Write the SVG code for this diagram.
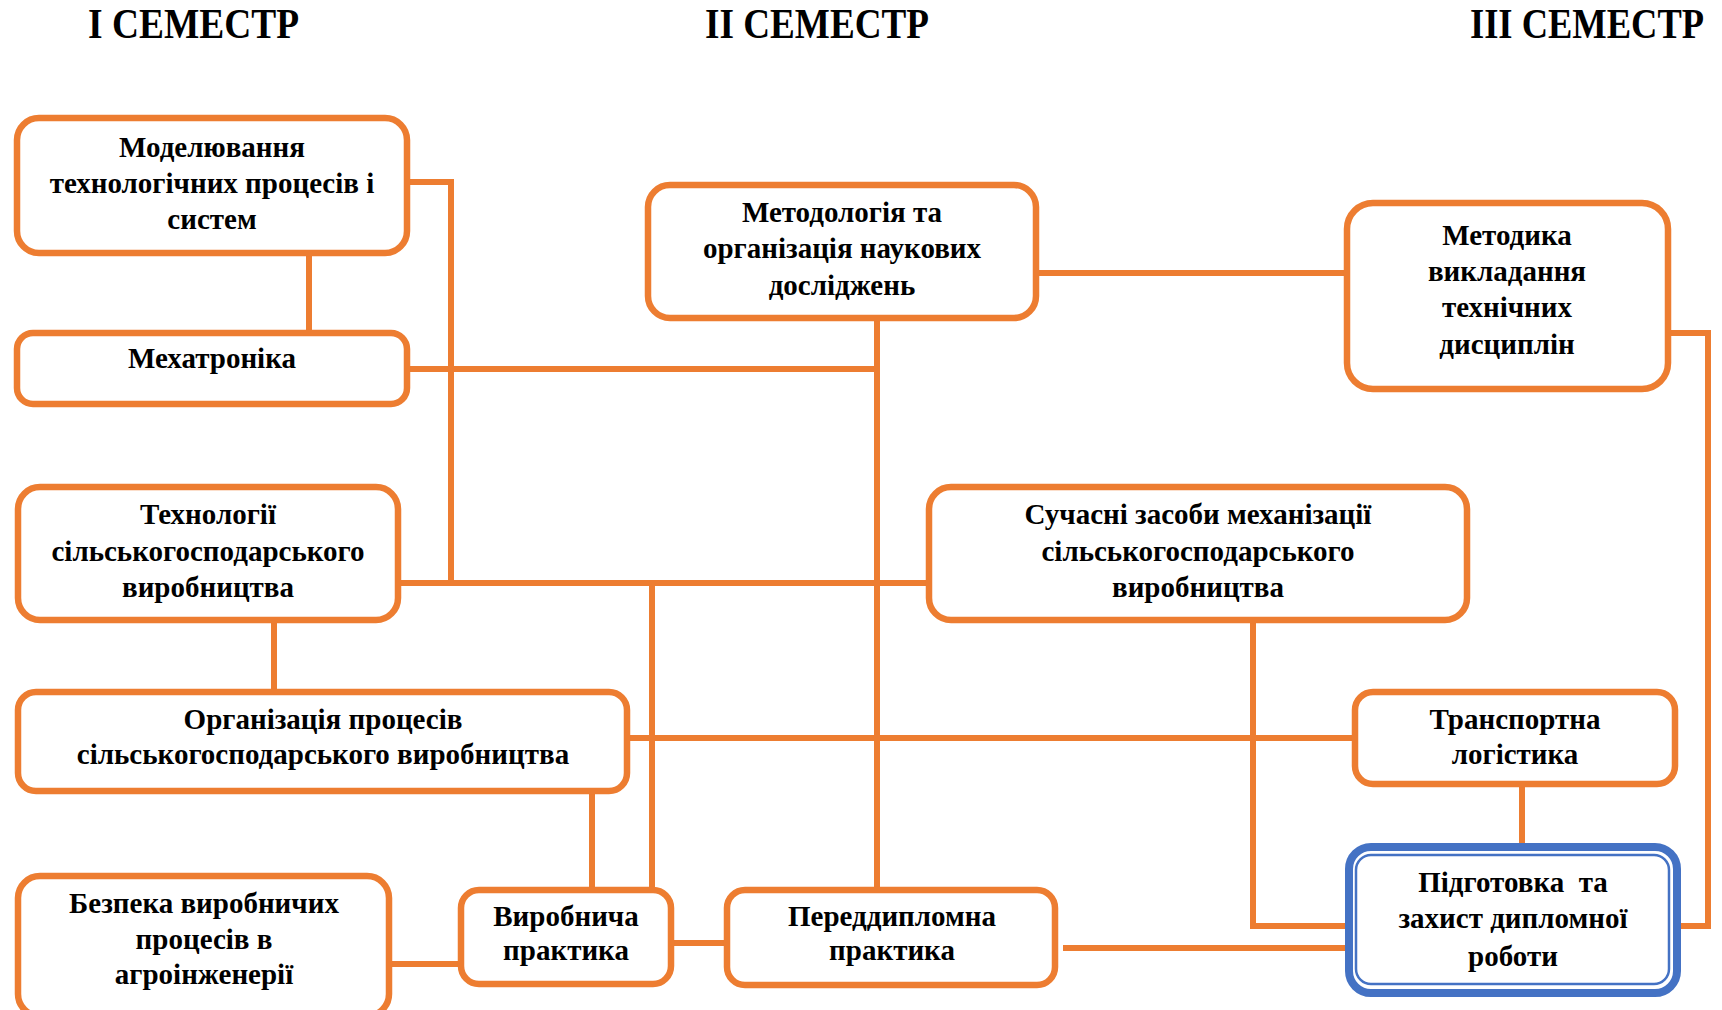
<svg xmlns="http://www.w3.org/2000/svg" width="1722" height="1010" viewBox="0 0 1722 1010">
<style>
.box{fill:#fff;stroke:#ED7D31;stroke-width:6.5}
.con{fill:none;stroke:#ED7D31;stroke-width:6;stroke-linejoin:miter;stroke-linecap:butt}
.t{font-family:"Liberation Serif","Times New Roman",serif;font-weight:bold;font-size:29px;fill:#000;text-anchor:middle}
.h{font-family:"Liberation Serif","Times New Roman",serif;font-weight:bold;font-size:36px;fill:#000}
</style>
<rect width="1722" height="1010" fill="#fff"/>
<g id="titles" transform="scale(1,1.1667)">
<text class="h" x="88" y="32.6" textLength="211" lengthAdjust="spacingAndGlyphs">I СЕМЕСТР</text>
<text class="h" x="705" y="32.6" textLength="224" lengthAdjust="spacingAndGlyphs">II СЕМЕСТР</text>
<text class="h" x="1470" y="32.6" textLength="234" lengthAdjust="spacingAndGlyphs">III СЕМЕСТР</text>
</g>
<g id="connectors">
<path class="con" d="M309 256V333"/>
<path class="con" d="M407 182H451V583"/>
<path class="con" d="M407 369H877"/>
<path class="con" d="M877 318V887"/>
<path class="con" d="M398 583H929"/>
<path class="con" d="M274 620V692"/>
<path class="con" d="M652 583V887"/>
<path class="con" d="M592 791V887"/>
<path class="con" d="M627 738H1355"/>
<path class="con" d="M387 964H461"/>
<path class="con" d="M671 943H725"/>
<path class="con" d="M1036 273H1347"/>
<path class="con" d="M1668 333H1708V926H1677"/>
<path class="con" d="M1253 620V926H1349"/>
<path class="con" d="M1063 948H1349"/>
<path class="con" d="M1522 784V847"/>
</g>
<g id="n-modeliuvannia">
<rect class="box" x="17" y="118" width="390" height="135" rx="22"/>
<text class="t" x="212" y="157">Моделювання</text>
<text class="t" x="212" y="193">технологічних процесів і</text>
<text class="t" x="212" y="229">систем</text>
</g>
<g id="n-mekhatronika">
<rect class="box" x="17" y="333" width="390" height="71" rx="16"/>
<text class="t" x="212" y="368">Мехатроніка</text>
</g>
<g id="n-tekhnolohii">
<rect class="box" x="18" y="487" width="380" height="133" rx="22"/>
<text class="t" x="208" y="524">Технології</text>
<text class="t" x="208" y="561">сільськогосподарського</text>
<text class="t" x="208" y="597">виробництва</text>
</g>
<g id="n-orhanizatsiia">
<rect class="box" x="18" y="692" width="609" height="99" rx="18"/>
<text class="t" x="323" y="729">Організація процесів</text>
<text class="t" x="323" y="764">сільськогосподарського виробництва</text>
</g>
<g id="n-bezpeka">
<rect class="box" x="18" y="876" width="371" height="140" rx="22"/>
<text class="t" x="204" y="913">Безпека виробничих</text>
<text class="t" x="204" y="949">процесів в</text>
<text class="t" x="204" y="984">агроінженерії</text>
</g>
<g id="n-vyrobnycha">
<rect class="box" x="461" y="890" width="210" height="94" rx="18"/>
<text class="t" x="566" y="926">Виробнича</text>
<text class="t" x="566" y="960">практика</text>
</g>
<g id="n-metodolohiia">
<rect class="box" x="648" y="185" width="388" height="133" rx="22"/>
<text class="t" x="842" y="222">Методологія та</text>
<text class="t" x="842" y="258">організація наукових</text>
<text class="t" x="842" y="295">досліджень</text>
</g>
<g id="n-peredyplomna">
<rect class="box" x="727" y="890" width="328" height="95" rx="18"/>
<text class="t" x="892" y="926">Переддипломна</text>
<text class="t" x="892" y="960">практика</text>
</g>
<g id="n-suchasni">
<rect class="box" x="929" y="487" width="538" height="133" rx="22"/>
<text class="t" x="1198" y="524">Сучасні засоби механізації</text>
<text class="t" x="1198" y="561">сільськогосподарського</text>
<text class="t" x="1198" y="597">виробництва</text>
</g>
<g id="n-metodyka">
<rect class="box" x="1347" y="203" width="321" height="186" rx="26"/>
<text class="t" x="1507" y="245">Методика</text>
<text class="t" x="1507" y="281">викладання</text>
<text class="t" x="1507" y="317">технічних</text>
<text class="t" x="1507" y="354">дисциплін</text>
</g>
<g id="n-transportna">
<rect class="box" x="1355" y="692" width="320" height="92" rx="18"/>
<text class="t" x="1515" y="729">Транспортна</text>
<text class="t" x="1515" y="764">логістика</text>
</g>
<g id="n-pidhotovka">
<rect x="1349" y="847" width="328" height="146" rx="22" fill="#fff" stroke="#4472C4" stroke-width="8"/>
<rect x="1356" y="855" width="313" height="129" rx="15" fill="none" stroke="#4472C4" stroke-width="2.5"/>
<text class="t" x="1513" y="892" xml:space="preserve">Підготовка  та</text>
<text class="t" x="1513" y="928">захист дипломної</text>
<text class="t" x="1513" y="966">роботи</text>
</g>
</svg>
